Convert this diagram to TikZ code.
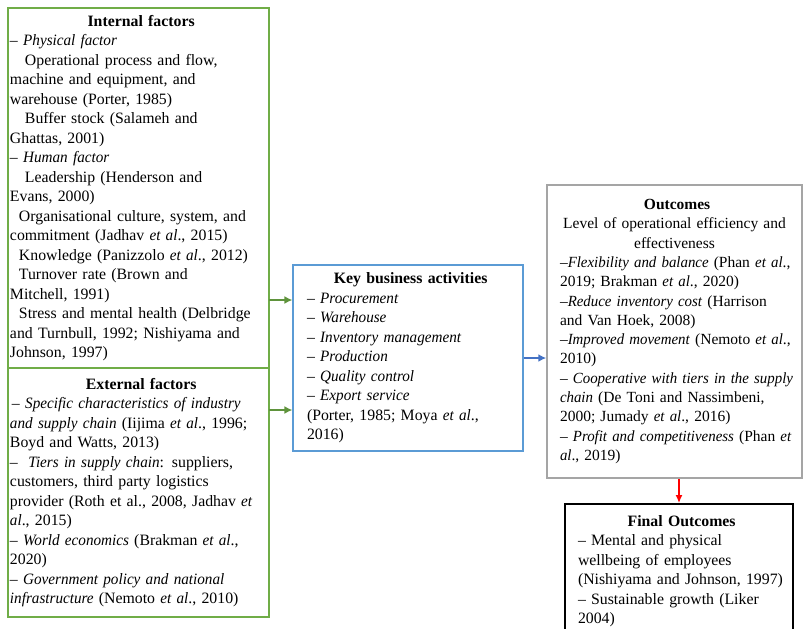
\documentclass[tikz,border=0pt]{standalone}
\usepackage{fontspec}
\setmainfont{Liberation Serif}[ItalicFeatures={FakeStretch=0.96}]
\usepackage{tikz}
\usetikzlibrary{arrows.meta}
\setlength{\parindent}{0pt}
\definecolor{boxgreen}{RGB}{112,173,71}
\definecolor{boxblue}{RGB}{91,155,213}
\definecolor{arrowblue}{RGB}{68,114,196}
\definecolor{boxgray}{RGB}{165,165,165}
\newcommand{\boxmargin}[1]{\leftskip=#1\relax\rightskip=-30pt plus 1fil\relax\hyphenpenalty=10000\relax}
\tikzset{
  txtbox/.style={rectangle, align=left, inner xsep=1pt, inner ysep=0pt, font=\fontsize{15.8}{19.5}\selectfont},
  factor/.style={txtbox, draw=boxgreen, line width=1.5pt, text width=259pt, minimum width=261},
  activity/.style={txtbox, draw=boxblue, line width=1.2pt, text width=228pt, minimum width=230},
  outcome/.style={txtbox, draw=boxgray, line width=1.5pt, text width=253pt, minimum width=255, font=\fontsize{15.5}{19.3}\selectfont},
  final/.style={txtbox, draw=black, line width=1.5pt, text width=226pt, minimum width=228},
  greenarrow/.style={-{Latex[length=8pt, width=8pt]}, line width=2pt, draw=boxgreen!85!black},
  bluearrow/.style={-{Latex[length=8pt, width=8pt]}, line width=2pt, draw=arrowblue},
  redarrow/.style={-{Latex[length=8pt, width=7pt]}, line width=1.3pt, draw=red}
}

\begin{document}
\begin{tikzpicture}[x=1pt, y=-1pt]
            \useasboundingbox (0,0) rectangle (803,629);

            % ==========================================
            % 1. FACTORES (Izquierda)
            % ==========================================
            \node[factor, minimum height=360] (int) at (138.5, 188) {%
                \boxmargin{1pt}
                {\centering\bfseries Internal factors\par}
                -- \textit{Physical factor}\\
                \hspace*{15pt}Operational process and flow,\\
                machine and equipment, and\\
                warehouse (Porter, 1985)\\
                \hspace*{15pt}Buffer stock (Salameh and\\
                Ghattas, 2001)\\
                -- \textit{Human factor}\\
                \hspace*{15pt}Leadership (Henderson and\\
                Evans, 2000)\\
                \hspace*{9pt}Organisational culture, system, and\\
                commitment (Jadhav \textit{et al}., 2015)\\
                \hspace*{9pt}Knowledge (Panizzolo \textit{et al}., 2012)\\
                \hspace*{9pt}Turnover rate (Brown and\\
                Mitchell, 1991)\\
                \hspace*{9pt}Stress and mental health (Delbridge\\
                and Turnbull, 1992; Nishiyama and\\
                Johnson, 1997)\par};

            \node[factor, minimum height=249] (ext) at (138.5, 492.5) {%
                \boxmargin{1pt}
                {\centering\bfseries External factors\par}
                \hspace*{2pt}-- \textit{Specific characteristics of industry}\\
                \textit{and supply chain} (Iijima \textit{et al}., 1996;\\
                Boyd and Watts, 2013)\\
                --\ \ \textit{Tiers in supply chain}: suppliers,\\
                customers, third party logistics\\
                provider (Roth et al., 2008, Jadhav \textit{et}\\
                \textit{al}., 2015)\\
                -- \textit{World economics} (Brakman \textit{et al}.,\\
                2020)\\
                -- \textit{Government policy and national}\\
                \textit{infrastructure} (Nemoto \textit{et al}., 2010)\par};

            % ==========================================
            % 2. ACTIVIDADES (Centro)
            % ==========================================
            \node[activity, minimum height=186] (key) at (408, 358) {%
                \boxmargin{13pt}
                {\centering\bfseries Key business activities\par}
                -- \textit{Procurement}\\
                -- \textit{Warehouse}\\
                -- \textit{Inventory management}\\
                -- \textit{Production}\\
                -- \textit{Quality control}\\
                -- \textit{Export service}\\
                (Porter, 1985; Moya \textit{et al}.,\\
                2016)\par};

            % ==========================================
            % 3. RESULTADOS (Derecha)
            % ==========================================
            \node[outcome, minimum height=293] (out) at (674.5, 331.5) {%
                \boxmargin{12pt}
                {\centering\bfseries Outcomes\par}
                {\centering Level of operational efficiency and\\ effectiveness\par}
                --\textit{Flexibility and balance} (Phan \textit{et al}.,\\
                2019; Brakman \textit{et al}., 2020)\\
                --\textit{Reduce inventory cost} (Harrison\\
                and Van Hoek, 2008)\\
                --\textit{Improved movement} (Nemoto \textit{et al}.,\\
                2010)\\
                -- \textit{Cooperative with tiers in the supply}\\
                \textit{chain} (De Toni and Nassimbeni,\\
                2000; Jumady \textit{et al}., 2016)\\
                -- \textit{Profit and competitiveness} (Phan \textit{et}\\
                \textit{al}., 2019)\par};

            \node[final, minimum height=135, anchor=north] (fin) at (679, 503) {%
                \boxmargin{12pt}
                {\centering\bfseries Final Outcomes\par}
                -- Mental and physical\\
                wellbeing of employees\\
                (Nishiyama and Johnson, 1997)\\
                -- Sustainable growth (Liker\\
                2004)\par};

            % ==========================================
            % 4. FLECHAS
            % ==========================================
            \coordinate (g1) at (269, 300);
            \coordinate (g2) at (269, 410);
            \draw[greenarrow] (g1) -- (g1 -| key.west);
            \draw[greenarrow] (g2) -- (g2 -| key.west);
            \draw[bluearrow] (key.east) -- (key.east -| out.west);
            \draw[redarrow] (fin.north |- out.south) -- (fin.north);

        \end{tikzpicture}
\end{document}
